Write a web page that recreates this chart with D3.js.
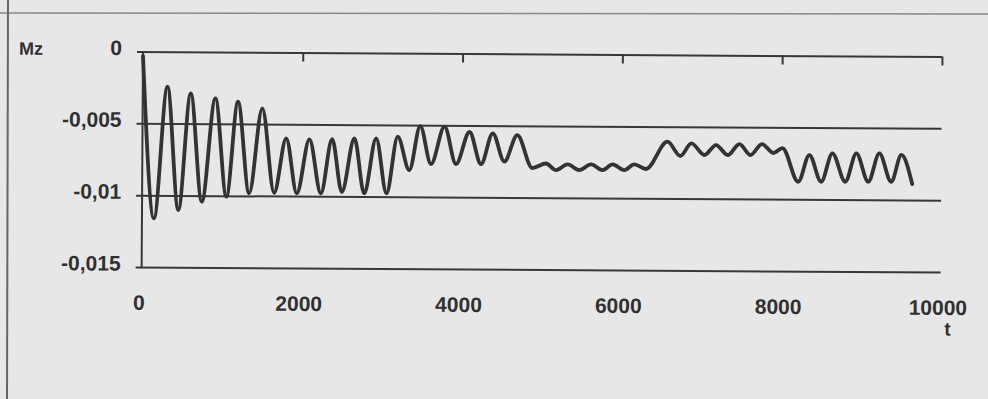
<!DOCTYPE html>
<html>
<head>
<meta charset="utf-8">
<script src="https://cdn.jsdelivr.net/npm/d3@7"></script>
<style>
  html, body { margin: 0; padding: 0; background: #e6e6e6; }
  svg { display: block; }
  .lbl { font-family: "Liberation Sans", Arial, sans-serif; font-weight: bold; fill: #303030; }
</style>
</head>
<body>
<div id="chart"></div>
<script>
// time points (t) and Mz values at the peaks / troughs of the trace
const tValues = [
  0, 150, 309, 454, 601, 747, 910, 1055, 1193, 1339, 1498, 1652, 1799, 1936, 2090, 2237,
  2374, 2499, 2653, 2779, 2925, 3058, 3195, 3342, 3476, 3613, 3780, 3926, 4093, 4239, 4384,
  4531, 4691, 4881, 5053, 5178, 5323, 5469, 5616, 5761, 5886, 6033, 6158, 6304, 6571, 6734,
  6871, 7034, 7180, 7326, 7472, 7610, 7754, 7898, 8010, 8210, 8348, 8498, 8636, 8799, 8936,
  9087, 9224, 9374, 9500, 9637
];
const mzValues = [
  -0.0003, -0.01161, -0.00244, -0.01102, -0.00289, -0.01043, -0.00323, -0.01007, -0.00345,
  -0.00983, -0.0039, -0.00978, -0.00598, -0.00981, -0.00604, -0.0098, -0.00601, -0.0097,
  -0.00595, -0.00978, -0.00594, -0.00977, -0.00582, -0.00814, -0.00507, -0.00771, -0.0051,
  -0.0077, -0.00546, -0.00769, -0.00554, -0.0075, -0.00565, -0.00794, -0.00762, -0.00807,
  -0.00767, -0.00806, -0.00766, -0.00805, -0.00765, -0.00804, -0.00764, -0.00796, -0.00605,
  -0.00704, -0.00615, -0.00696, -0.00626, -0.00695, -0.00618, -0.00694, -0.00617, -0.00679,
  -0.00644, -0.00878, -0.00692, -0.00877, -0.00679, -0.00876, -0.00678, -0.00875, -0.00677,
  -0.00874, -0.00687, -0.00889
];
const yTicks = [0, -0.005, -0.01, -0.015];
const yTickLabels = ["0", "-0,005", "-0,01", "-0,015"];
const xTicks = [0, 2000, 4000, 6000, 8000, 10000];
const xTickLabels = ["0", "2000", "4000", "6000", "8000", "10000"];
const topTicks = [2000, 4000, 6000, 8000, 10000];

const W = 988, H = 399;
const width = 799, height = 215.5;

const svg = d3.select("#chart").append("svg").attr("width", W).attr("height", H);
svg.append("rect").attr("width", W).attr("height", H).attr("fill", "#e7e7e7");

// scan edges
svg.append("line").attr("x1", 0).attr("x2", W).attr("y1", 13).attr("y2", 14)
  .attr("stroke", "#888").attr("stroke-width", 1.5);
svg.append("line").attr("x1", 8).attr("x2", 7).attr("y1", 0).attr("y2", H)
  .attr("stroke", "#666").attr("stroke-width", 2);

// the scanned page is slightly rotated
const g = svg.append("g").attr("transform", "translate(143,51.5) rotate(0.36)");

const x = d3.scaleLinear().domain([0, 10000]).range([0, width]);
const y = d3.scaleLinear().domain([-0.015, 0]).range([height, 0]);

// horizontal grid lines with y labels
const yAxis = g.append("g")
  .call(d3.axisLeft(y).tickValues(yTicks).tickSize(-width).tickPadding(21)
    .tickFormat((d, i) => yTickLabels[i]));
yAxis.select(".domain").remove();
yAxis.selectAll(".tick line").attr("x1", -6).attr("stroke", "#383838").attr("stroke-width", 2);
yAxis.selectAll(".tick text").attr("class", "lbl").attr("font-size", 21).attr("fill", null)
  .attr("y", -3.5);

// x labels below
const xAxis = g.append("g").attr("transform", `translate(0,${height})`)
  .call(d3.axisBottom(x).tickValues(xTicks).tickSize(0).tickPadding(28)
    .tickFormat((d, i) => xTickLabels[i]));
xAxis.select(".domain").remove();
xAxis.selectAll(".tick text").attr("class", "lbl").attr("font-size", 21).attr("fill", null)
  .attr("x", -3);

// small ticks hanging from the top line
const topAxis = g.append("g")
  .call(d3.axisTop(x).tickValues(topTicks).tickSize(-9).tickFormat(""));
topAxis.select(".domain").remove();
topAxis.selectAll(".tick line").attr("stroke", "#383838").attr("stroke-width", 2);

// left axis line
g.append("line").attr("x1", 0).attr("x2", 0).attr("y1", 0).attr("y2", height)
  .attr("stroke", "#383838").attr("stroke-width", 2);

// axis names
g.append("text").attr("class", "lbl").attr("x", -124).attr("y", 4).attr("font-size", 18).text("Mz");
g.append("text").attr("class", "lbl").attr("x", 803).attr("y", 279).attr("font-size", 19)
  .attr("font-weight", "normal").text("t");

// the trace
const points = tValues.map((t, i) => [t, mzValues[i]]);
const line = d3.line().x(d => x(d[0])).y(d => y(d[1])).curve(d3.curveMonotoneX);
g.append("path").datum(points).attr("d", line)
  .attr("fill", "none").attr("stroke", "#333").attr("stroke-width", 3.8)
  .attr("stroke-linejoin", "round").attr("stroke-linecap", "round");
</script>
</body>
</html>
